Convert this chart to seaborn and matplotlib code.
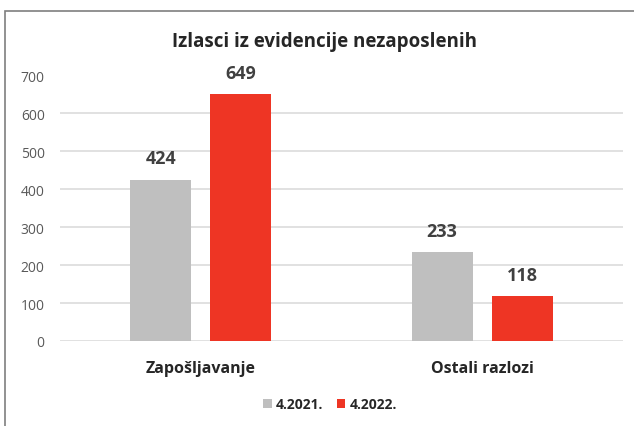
import pandas as pd
import matplotlib.pyplot as plt
import seaborn as sns
from matplotlib.patches import Rectangle

categories = ["Zapošljavanje", "Ostali razlozi"]
series = ["4.2021.", "4.2022."]
values_2021 = [424, 233]
values_2022 = [649, 118]

df = pd.DataFrame({
    "kategorija": categories * 2,
    "period": [series[0]] * 2 + [series[1]] * 2,
    "broj": values_2021 + values_2022,
})

sns.set_style("white")
plt.rcParams["font.family"] = ["Open Sans", "DejaVu Sans"]

fig = plt.figure(figsize=(6.34, 4.27), dpi=100)
ax = fig.add_axes([60 / 634, 1 - 342 / 427, 563 / 634, 266 / 427])

sns.barplot(data=df, x="kategorija", y="broj", hue="period",
            palette=["#BFBFBF", "#EE3524"], width=0.57, gap=0.24,
            saturation=1, linewidth=0, ax=ax, legend=True)

ax.set_ylim(0, 700)
ax.set_xlim(-0.5, 1.5)
ax.set_yticks(range(0, 701, 100))
ax.yaxis.grid(True, color="#D9D9D9", linewidth=1.1)
ax.set_axisbelow(True)
ax.get_ygridlines()[-1].set_visible(False)
for s in ax.spines.values():
    s.set_visible(False)
ax.tick_params(axis="y", length=0, labelsize=10, labelcolor="#595959", pad=11)
ax.tick_params(axis="x", length=0, labelsize=11.5, pad=14)
for lbl in ax.get_xticklabels():
    lbl.set_fontweight("bold")
ax.set_xlabel("")
ax.set_ylabel("")

for c in ax.containers:
    ax.bar_label(c, padding=9, fontsize=13, fontweight="bold", color="#404040")

ax.legend(loc="center", ncol=2, frameon=False,
          handlelength=0.6, handleheight=0.6, handletextpad=0.3, columnspacing=1.0,
          prop={"weight": "bold", "size": 10})
leg = ax.get_legend()
leg.set_bbox_to_anchor((330 / 634, 1 - 405 / 427), transform=fig.transFigure)

fig.text(324 / 634, 1 - 42 / 427, "Izlasci iz evidencije nezaposlenih",
         ha="center", va="center", fontsize=13.5, fontweight="bold")

fig.patches.append(Rectangle((5 / 634, -0.1), 1.2, 1 - 12 / 427 + 0.1,
                             transform=fig.transFigure, fill=False,
                             edgecolor="#7F7F7F", linewidth=1.2))

fig.savefig("out.png", dpi=100)
